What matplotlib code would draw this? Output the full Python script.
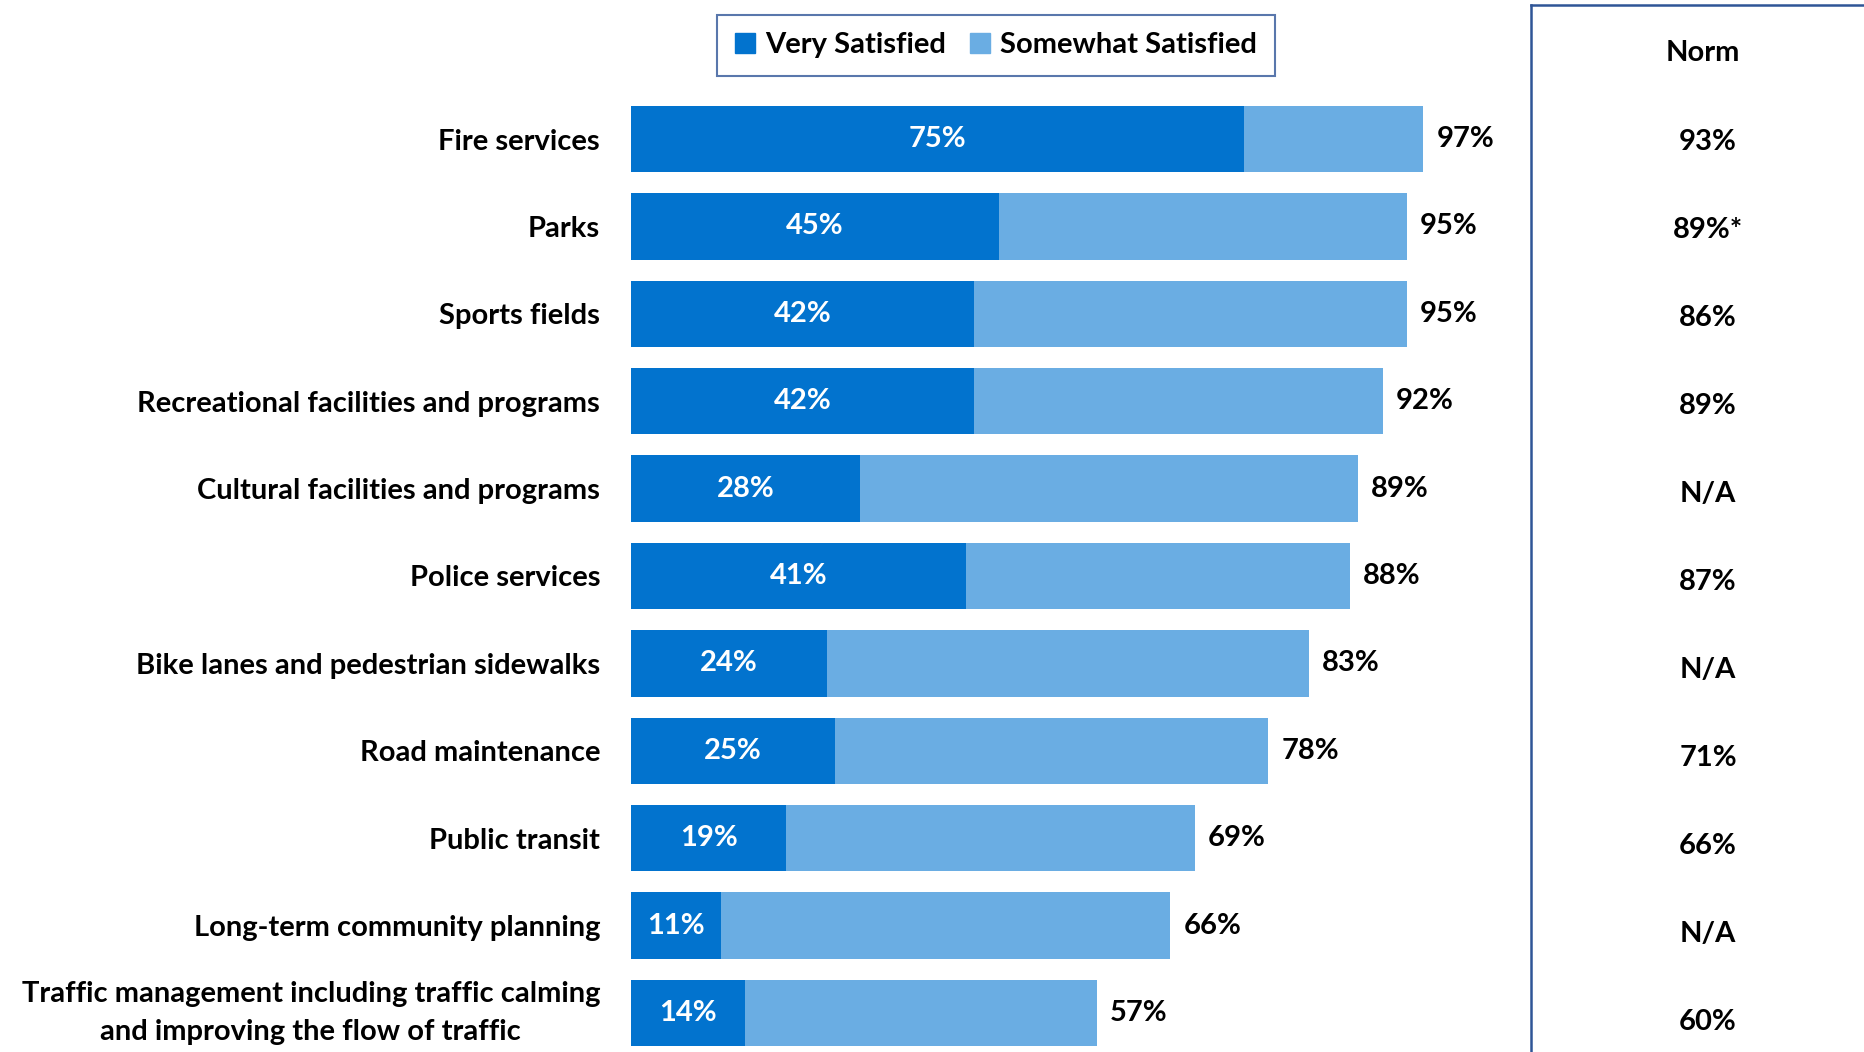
import matplotlib
matplotlib.use("Agg")
import matplotlib.pyplot as plt
from matplotlib.lines import Line2D
from matplotlib.patches import Patch

plt.rcParams["font.family"] = ["Lato", "DejaVu Sans"]
plt.rcParams["font.weight"] = "bold"

# Satisfaction with services (top-2 box)
services = [
    "Fire services",
    "Parks",
    "Sports fields",
    "Recreational facilities and programs",
    "Cultural facilities and programs",
    "Police services",
    "Bike lanes and pedestrian sidewalks",
    "Road maintenance",
    "Public transit",
    "Long-term community planning",
    "Traffic management including traffic calming\nand improving the flow of traffic",
]
very_satisfied = [75, 45, 42, 42, 28, 41, 24, 25, 19, 11, 14]
total_satisfied = [97, 95, 95, 92, 89, 88, 83, 78, 69, 66, 57]
norm_labels = ["93%", "89%*", "86%", "89%", "N/A", "87%", "N/A", "71%", "66%", "N/A", "60%"]

somewhat_satisfied = [t - v for t, v in zip(total_satisfied, very_satisfied)]

DARK = "#0273CE"
LIGHT = "#6AADE3"
FRAME = "#2F5597"
FS = 21

W, H = 1864, 1052
fig = plt.figure(figsize=(W / 100, H / 100), dpi=100)
fig.patch.set_facecolor("white")

# axes placed in pixel terms: bars start at x=631, 8.17 px per percent
row_px = 87.4
first_row = 139
ax = fig.add_axes([631 / W, 0, 817 / W, 1])
ax.set_xlim(0, 100)
n = len(services)
ax.set_ylim(n - 1 + (H - first_row - (n - 1) * row_px) / row_px, -first_row / row_px)

ypos = list(range(n))
bar_h = 0.76
ax.barh(ypos, very_satisfied, height=bar_h, color=DARK, label="Very Satisfied")
ax.barh(ypos, somewhat_satisfied, left=very_satisfied, height=bar_h, color=LIGHT,
        label="Somewhat Satisfied")

for y, v, t in zip(ypos, very_satisfied, total_satisfied):
    ax.text(v / 2, y, f"{v}%", ha="center", va="center", color="white",
            fontsize=FS, fontweight="bold")
    ax.text(t + 1.6, y, f"{t}%", ha="left", va="center", color="black",
            fontsize=FS, fontweight="bold", clip_on=False)

# category names, right-aligned just left of the bars
for y, name in zip(ypos, services):
    two_line = "\n" in name
    ax.text(-31 / 817, y, name,
            transform=ax.get_yaxis_transform(), ha="right",
            va="center" if two_line else "center_baseline",
            multialignment="center", linespacing=1.6, fontsize=FS,
            fontweight="bold", clip_on=False)

ax.set_yticks([])
ax.set_xticks([])
for s in ax.spines.values():
    s.set_visible(False)
ax.patch.set_visible(False)

# Norm column box
x_box = 1531 / W
y_top = 1 - 5 / H
fig.add_artist(Line2D([x_box, x_box], [0, y_top], transform=fig.transFigure,
                      color=FRAME, lw=1.8))
fig.add_artist(Line2D([x_box, 1], [y_top, y_top], transform=fig.transFigure,
                      color=FRAME, lw=1.8))
fig.text(1703 / W, 1 - 53 / H, "Norm", ha="center", va="center", fontsize=FS,
         fontweight="bold")
# norm entries sit in their own text column, a touch looser than the bar rows
norm_top, norm_step = 142, 88
for i, lab in enumerate(norm_labels):
    fig.text(1708 / W, 1 - (norm_top + i * norm_step) / H, lab, ha="center",
             va="center", fontsize=FS, fontweight="bold")

handles = [Patch(color=DARK), Patch(color=LIGHT)]
leg = fig.legend(handles, ["Very Satisfied", "Somewhat Satisfied"], loc="center",
                 bbox_to_anchor=(996 / W, 1 - 45 / H), ncol=2, fontsize=FS,
                 handlelength=0.7, handleheight=0.7, handletextpad=0.35,
                 columnspacing=0.8, fancybox=False, borderpad=0.6)
leg.get_frame().set_edgecolor(FRAME)
leg.get_frame().set_linewidth(1.5)

fig.savefig("out.png", dpi=100)
